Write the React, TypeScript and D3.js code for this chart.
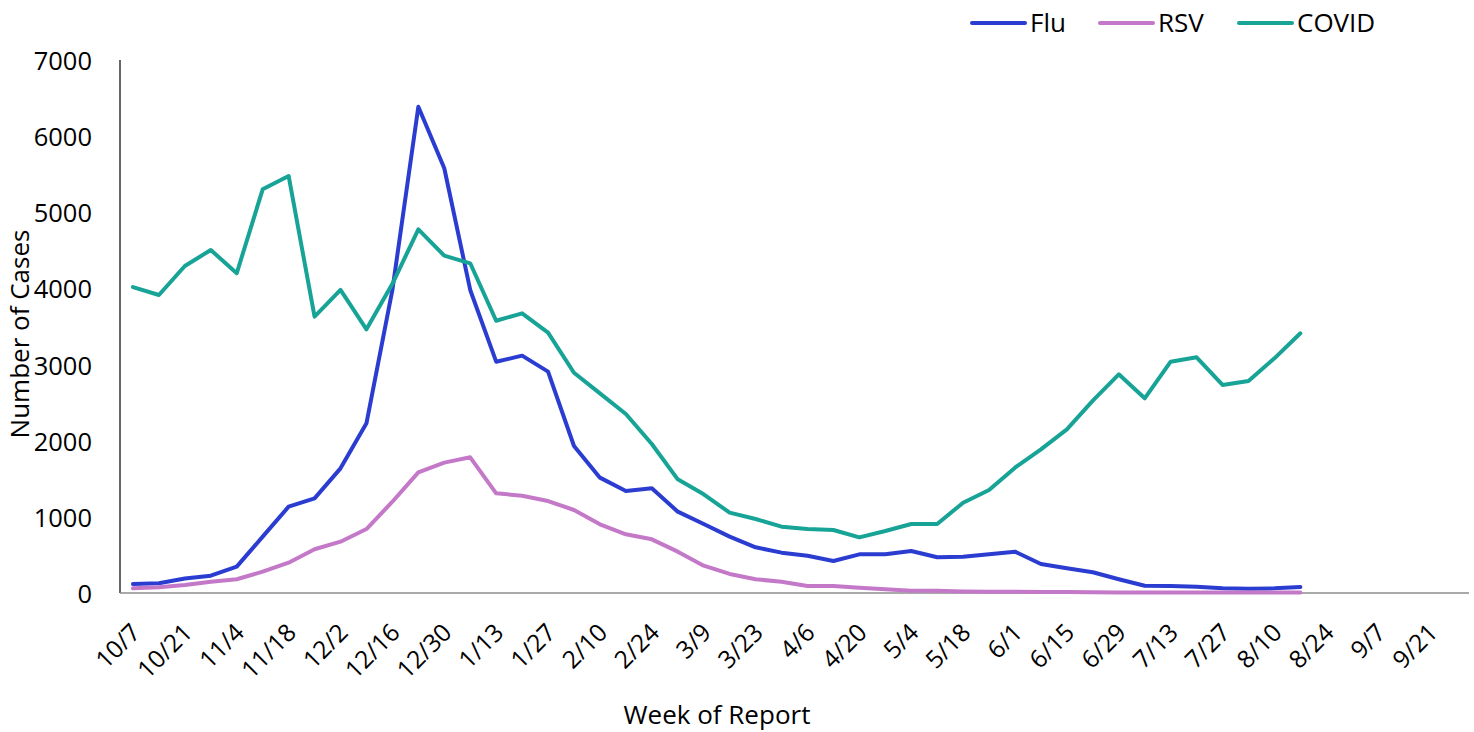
import React from "react";
import * as d3 from "d3";

const weeks = [
  "10/7", "10/14", "10/21", "10/28", "11/4", "11/11", "11/18", "11/25",
  "12/2", "12/9", "12/16", "12/23", "12/30", "1/6", "1/13", "1/20", "1/27",
  "2/3", "2/10", "2/17", "2/24", "3/2", "3/9", "3/16", "3/23", "3/30",
  "4/6", "4/13", "4/20", "4/27", "5/4", "5/11", "5/18", "5/25", "6/1",
  "6/8", "6/15", "6/22", "6/29", "7/6", "7/13", "7/20", "7/27", "8/3",
  "8/10", "8/17", "8/24", "8/31", "9/7", "9/14", "9/21", "9/28",
];

const tickLabels = [
  "10/7", "10/21", "11/4", "11/18", "12/2", "12/16", "12/30", "1/13", "1/27",
  "2/10", "2/24", "3/9", "3/23", "4/6", "4/20", "5/4", "5/18", "6/1", "6/15",
  "6/29", "7/13", "7/27", "8/10", "8/24", "9/7", "9/21",
];

const yTicks = [0, 1000, 2000, 3000, 4000, 5000, 6000, 7000];

const flu = [
  118, 127, 190, 228, 346, 740, 1134, 1243, 1637, 2228, 3980, 6387, 5578,
  3980, 3038, 3117, 2907, 1931, 1515, 1340, 1375, 1068, 906, 740, 600, 530,
  490, 420, 508, 508, 552, 469, 477, 508, 543, 381, 324, 272, 180, 96, 92,
  83, 61, 57, 61, 79,
];

const rsv = [
  61, 74, 105, 149, 180, 280, 398, 574, 674, 840, 1199, 1585, 1712, 1782,
  1309, 1278, 1208, 1090, 902, 771, 705, 543, 359, 250, 180, 149, 92, 92, 70,
  49, 30, 28, 20, 18, 16, 14, 12, 10, 8, 8, 7, 6, 5, 5, 5, 5,
];

const covid = [
  4018, 3914, 4295, 4505, 4199, 5302, 5477, 3629, 3980, 3463, 4060, 4776,
  4430, 4330, 3576, 3673, 3419, 2893, 2622, 2351, 1957, 1493, 1296, 1055, 972,
  871, 841, 827, 731, 814, 906, 906, 1186, 1353, 1646, 1887, 2150, 2526, 2872,
  2557, 3038, 3095, 2732, 2784, 3082, 3411,
];

const seriesNames = ["Flu", "RSV", "COVID"];
const seriesColors = ["#2b3dd1", "#c479c8", "#17a396"];
const seriesData = [flu, rsv, covid];

const W = 1474;
const H = 732;
const FONT = "'Open Sans', 'Noto Sans', sans-serif";

export default function App() {
  const x = d3.scaleBand<string>().domain(weeks).range([120, 1469]).paddingInner(0).paddingOuter(0);
  const y = d3.scaleLinear().domain([0, 7000]).range([593, 60]);
  const cx = (w: string) => (x(w) as number) + x.bandwidth() / 2;

  const line = d3
    .line<number>()
    .x((_, i) => cx(weeks[i]))
    .y((d) => y(d))
    .curve(d3.curveLinear);

  const legendX = [972, 1100, 1239];

  return (
    <svg
      width={W}
      height={H}
      style={{ position: "absolute", left: 0, top: 0, display: "block", background: "#fff" }}
      fontFamily={FONT}
    >
      {/* axes */}
      <line x1={120} x2={120} y1={y(7000)} y2={y(0)} stroke="#000" strokeWidth={1.2} />
      <line x1={120} x2={1469} y1={y(0)} y2={y(0)} stroke="#8c8c8c" strokeWidth={1.6} />

      {yTicks.map((t) => (
        <text
          key={t}
          x={92}
          y={y(t)}
          textAnchor="end"
          dominantBaseline="central"
          fontSize={25.5}
          fill="#000"
        >
          {t}
        </text>
      ))}

      {tickLabels.map((t) => {
        const tx = cx(t) + 9;
        const ty = 634;
        return (
          <text
            key={t}
            x={tx}
            y={ty}
            textAnchor="end"
            fontSize={24.5}
            fill="#000"
            transform={`rotate(-45 ${tx} ${ty})`}
          >
            {t}
          </text>
        );
      })}

      {/* titles */}
      <text
        x={29}
        y={334}
        textAnchor="middle"
        fontSize={26}
        fill="#000"
        transform={`rotate(-90 29 334)`}
      >
        Number of Cases
      </text>
      <text x={717} y={724} textAnchor="middle" fontSize={26} fill="#000">
        Week of Report
      </text>

      {/* series */}
      {seriesData.map((s, k) => (
        <path
          key={seriesNames[k]}
          d={line(s) || ""}
          fill="none"
          stroke={seriesColors[k]}
          strokeWidth={4}
          strokeLinejoin="round"
          strokeLinecap="round"
        />
      ))}

      {/* legend */}
      {seriesNames.map((n, k) => (
        <g key={n}>
          <line
            x1={legendX[k]}
            x2={legendX[k] + 53}
            y1={23}
            y2={23}
            stroke={seriesColors[k]}
            strokeWidth={4}
            strokeLinecap="round"
          />
          <text x={legendX[k] + 58} y={32} fontSize={26} fill="#000">
            {n}
          </text>
        </g>
      ))}
    </svg>
  );
}
